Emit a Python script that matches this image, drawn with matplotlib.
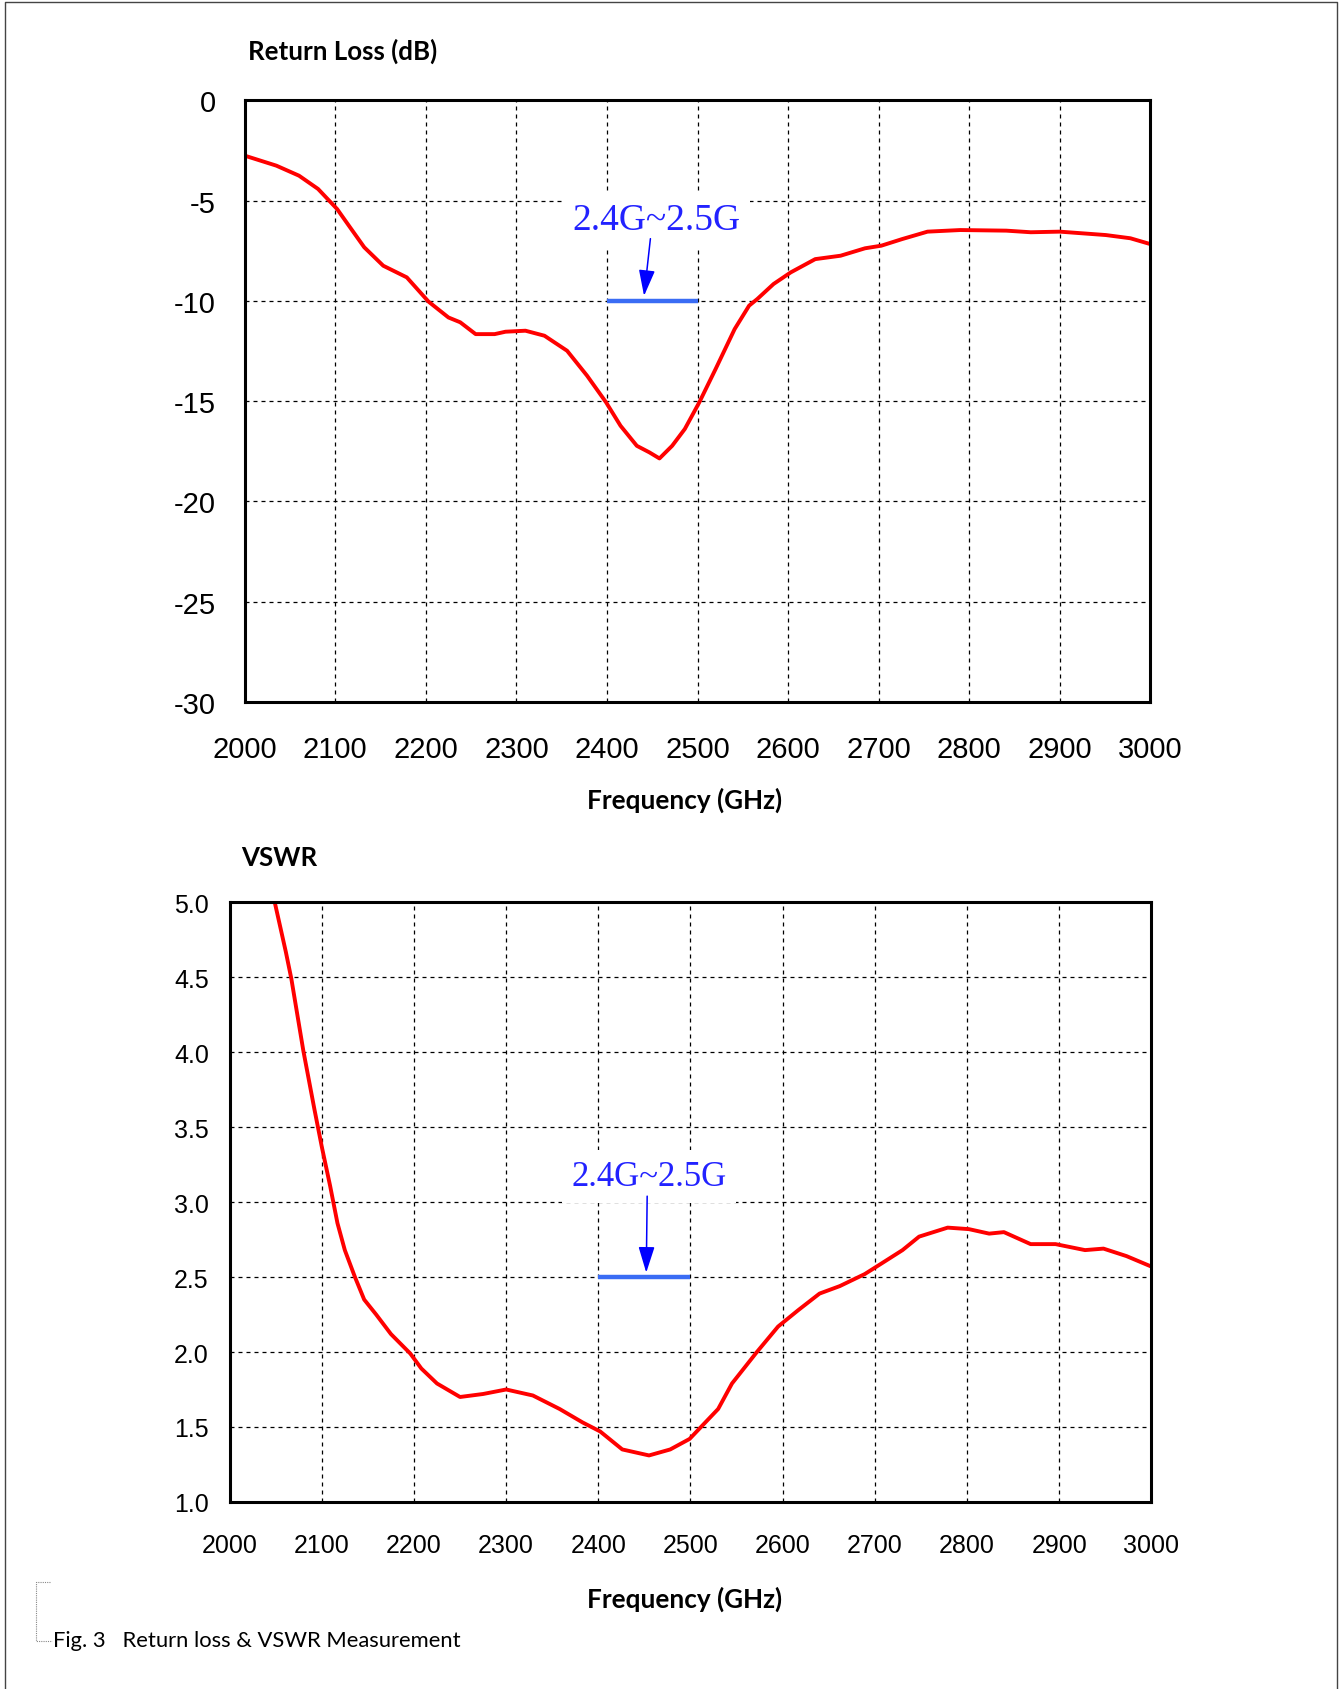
import matplotlib
matplotlib.use('Agg')
import matplotlib.pyplot as plt
from matplotlib import font_manager as fm
from matplotlib.lines import Line2D

# ---------------- data ----------------
freq_ticks = [2000, 2100, 2200, 2300, 2400, 2500, 2600, 2700, 2800, 2900, 3000]
rl_ticks = [0, -5, -10, -15, -20, -25, -30]
vswr_ticks = [1.0, 1.5, 2.0, 2.5, 3.0, 3.5, 4.0, 4.5, 5.0]

rl_freq = [2000, 2035, 2060, 2081, 2102, 2115, 2132, 2153, 2179, 2203, 2225, 2238,
           2255, 2276, 2288, 2310, 2331, 2356, 2378, 2399, 2415, 2433, 2447, 2458,
           2472, 2486, 2502, 2520, 2541, 2557, 2566, 2584, 2603, 2630, 2658, 2685,
           2703, 2726, 2754, 2790, 2841, 2868, 2900, 2951, 2978, 3000]
rl_db = [-2.76, -3.26, -3.76, -4.42, -5.42, -6.25, -7.33, -8.25, -8.83, -10.04, -10.83, -11.07,
         -11.66, -11.66, -11.54, -11.49, -11.74, -12.49, -13.73, -15.06, -16.23, -17.23, -17.56, -17.86,
         -17.23, -16.39, -15.06, -13.40, -11.41, -10.24, -9.91, -9.16, -8.58, -7.92, -7.75, -7.38,
         -7.25, -6.92, -6.55, -6.47, -6.50, -6.58, -6.55, -6.72, -6.88, -7.17]

vs_freq = [2049, 2061, 2067, 2080, 2092, 2100, 2109, 2117, 2125, 2136, 2146, 2159,
           2175, 2196, 2208, 2225, 2250, 2275, 2300, 2329, 2358, 2383, 2402, 2426,
           2455, 2478, 2499, 2530, 2545, 2572, 2595, 2617, 2640, 2662, 2689, 2707,
           2730, 2748, 2779, 2802, 2824, 2840, 2869, 2896, 2928, 2948, 2973, 3000]
vs_val = [5.0, 4.67, 4.49, 4.01, 3.62, 3.37, 3.11, 2.86, 2.68, 2.50, 2.35, 2.25,
          2.12, 1.99, 1.89, 1.79, 1.70, 1.72, 1.75, 1.71, 1.62, 1.53, 1.47, 1.35,
          1.31, 1.35, 1.42, 1.62, 1.79, 2.00, 2.17, 2.28, 2.39, 2.44, 2.52, 2.59,
          2.68, 2.77, 2.83, 2.82, 2.79, 2.80, 2.72, 2.72, 2.68, 2.69, 2.64, 2.57]

band = [2400, 2500]
band_label = "2.4G~2.5G"
rl_band_level = -10
vs_band_level = 2.5

# ---------------- figure ----------------
W, H = 1339, 1690
fig = plt.figure(figsize=(W / 100, H / 100), dpi=100)
fig.patch.set_facecolor('white')

try:
    fm.findfont(fm.FontProperties(family='Liberation Sans Narrow'), fallback_to_default=False)
    tick_font = 'Liberation Sans Narrow'
    top_ts, bot_ts = 22, 19
except Exception:
    tick_font = 'Liberation Sans'
    top_ts, bot_ts = 21, 18

title_font = 'Lato'

ax1 = fig.add_axes([244.7 / W, 1 - 702.9 / H, 905.6 / W, 601.6 / H])
ax2 = fig.add_axes([229.6 / W, 1 - 1502.9 / H, 921.8 / W, 599.5 / H])

grid_kw = dict(color='black', linestyle=(0, (3.2, 3.2)), linewidth=0.9)

# ---- top: return loss ----
ax1.plot(rl_freq, rl_db, color='#ff0000', lw=2.8, solid_joinstyle='round', zorder=4)
ax1.set_xlim(2000, 3000)
ax1.set_ylim(-30, 0)
ax1.set_xticks(freq_ticks)
ax1.set_xticklabels([str(t) for t in freq_ticks], fontfamily=tick_font, fontsize=top_ts)
ax1.set_yticks(rl_ticks)
ax1.set_yticklabels([str(t) for t in rl_ticks], fontfamily=tick_font, fontsize=top_ts)
ax1.tick_params(axis='x', length=0, pad=23.5)
ax1.tick_params(axis='y', length=0, pad=21)
ax1.grid(True, **grid_kw)
ax1.plot(band, [rl_band_level, rl_band_level], color='#3a6cf4', lw=3.2, solid_capstyle='butt', zorder=5)
ax1.annotate('', xy=(2441, -9.75), xytext=(2448, -6.9),
             arrowprops=dict(arrowstyle='-|>,head_length=0.8,head_width=0.25',
                             color='#0000ff', lw=1.1, mutation_scale=20, shrinkA=0, shrinkB=0),
             zorder=6)
ax1.text(2455, -5.95, band_label, ha='center', va='center', color='#2222ff',
         fontfamily='Liberation Serif', fontsize=27, zorder=5,
         bbox=dict(facecolor='white', edgecolor='none', pad=7))

# ---- bottom: VSWR ----
ax2.plot(vs_freq, vs_val, color='#ff0000', lw=2.8, solid_joinstyle='round', zorder=4)
ax2.set_xlim(2000, 3000)
ax2.set_ylim(1.0, 5.0)
ax2.set_xticks(freq_ticks)
ax2.set_xticklabels([str(t) for t in freq_ticks], fontfamily=tick_font, fontsize=bot_ts)
ax2.set_yticks(vswr_ticks)
ax2.set_yticklabels(['%.1f' % t for t in vswr_ticks], fontfamily=tick_font, fontsize=bot_ts)
ax2.tick_params(axis='x', length=0, pad=22.5)
ax2.tick_params(axis='y', length=0, pad=15)
ax2.grid(True, **grid_kw)
ax2.plot(band, [vs_band_level, vs_band_level], color='#3a6cf4', lw=3.2, solid_capstyle='butt', zorder=5)
ax2.annotate('', xy=(2452, 2.53), xytext=(2453, 3.04),
             arrowprops=dict(arrowstyle='-|>,head_length=0.8,head_width=0.25',
                             color='#0000ff', lw=1.1, mutation_scale=20, shrinkA=0, shrinkB=0),
             zorder=6)
ax2.text(2455, 3.17, band_label, ha='center', va='center', color='#2222ff',
         fontfamily='Liberation Serif', fontsize=25, zorder=5,
         bbox=dict(facecolor='white', edgecolor='none', pad=7))

for ax in (ax1, ax2):
    for s in ax.spines.values():
        s.set_linewidth(2.2)
        s.set_color('black')
        s.set_zorder(7)

# ---------------- texts ----------------
def fx(x):
    return x / W

def fy(y):
    return 1 - y / H

fig.text(fx(248), fy(51), "Return Loss (dB)", fontfamily=title_font, fontweight='bold',
         fontsize=18.6, ha='left', va='center')
fig.text(fx(685), fy(800), "Frequency (GHz)", fontfamily=title_font, fontweight='bold',
         fontsize=18.8, ha='center', va='center')
fig.text(fx(241), fy(858), "VSWR", fontfamily=title_font, fontweight='bold',
         fontsize=18.6, ha='left', va='center')
fig.text(fx(685), fy(1599), "Frequency (GHz)", fontfamily=title_font, fontweight='bold',
         fontsize=18.8, ha='center', va='center')
fig.text(fx(53), fy(1641), "Fig. 3   Return loss & VSWR Measurement", fontfamily=title_font,
         fontsize=15.8, ha='left', va='center')

# dotted bracket next to caption
fig.add_artist(Line2D([fx(50), fx(35.7), fx(35.7), fx(52)], [fy(1583), fy(1583), fy(1641.5), fy(1641.5)],
                      color='#888888', lw=0.8, linestyle=(0, (1, 1))))

# page border (left, top, right)
fig.add_artist(Line2D([fx(5.4), fx(5.4), fx(1337), fx(1337)], [0, fy(3), fy(3), 0],
                      color='#444444', lw=1.0))

fig.savefig('out.png', dpi=100, facecolor='white')
